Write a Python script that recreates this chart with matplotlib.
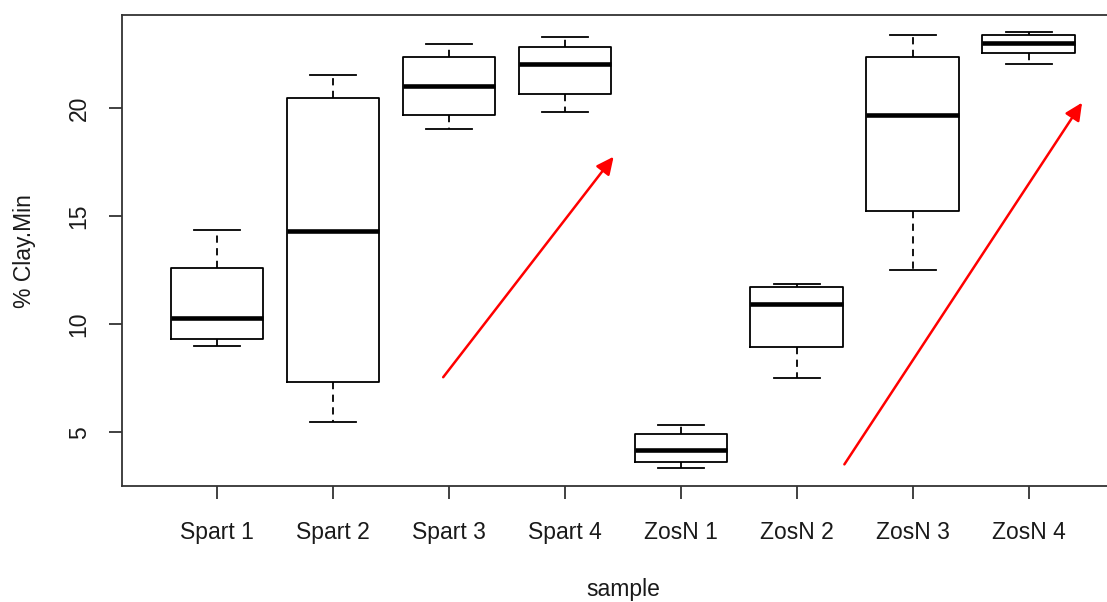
import matplotlib.pyplot as plt

plt.rcParams['font.family'] = ['Liberation Sans', 'DejaVu Sans']

samples = ["Spart 1", "Spart 2", "Spart 3", "Spart 4", "ZosN 1", "ZosN 2", "ZosN 3", "ZosN 4"]
whislo = [8.98, 5.50, 19.03, 19.81, 3.33, 7.50, 12.50, 22.02]
q1 = [9.33, 7.35, 19.68, 20.65, 3.61, 8.94, 15.23, 22.53]
med = [10.27, 14.32, 21.02, 22.04, 4.17, 10.93, 19.68, 23.02]
q3 = [12.62, 20.47, 22.37, 22.82, 4.91, 11.72, 22.38, 23.38]
whishi = [14.37, 21.54, 22.95, 23.30, 5.32, 11.86, 23.36, 23.50]

# trend arrows (start x, start y, end x, end y)
arrow_from = [(2.95, 7.55), (6.41, 3.52)]
arrow_to = [(4.42, 17.75), (8.46, 20.25)]

stats = []
for i in range(len(samples)):
    stats.append(dict(whislo=whislo[i], q1=q1[i], med=med[i], q3=q3[i],
                      whishi=whishi[i], fliers=[], label=samples[i]))

fig = plt.figure(figsize=(11.07, 6.02), dpi=100)
ax = fig.add_axes([0.1102, 0.1927, 0.905, 0.7816])

ax.bxp(stats, positions=range(1, 9), widths=0.8, showfliers=False,
       boxprops=dict(color="black", lw=1.3),
       medianprops=dict(color="black", lw=3.3, solid_capstyle="butt"),
       whiskerprops=dict(color="black", lw=1.3, linestyle=(0, (4, 3))),
       capprops=dict(color="black", lw=1.3), capwidths=0.4)

for s, e in zip(arrow_from, arrow_to):
    ax.annotate("", xy=e, xytext=s,
                arrowprops=dict(arrowstyle="-|>,head_length=1.05,head_width=0.5",
                                color="red", lw=1.8, shrinkA=0, shrinkB=0))

ax.set_xlim(0.18, 8.82)
ax.set_ylim(2.52, 24.28)
ax.set_yticks([5, 10, 15, 20])
ax.set_yticklabels(["5", "10", "15", "20"], rotation=90, va="center")
ax.tick_params(length=9.5, width=1.3, color="#333333", labelsize=16.5, pad=16,
               labelcolor="#1a1a1a")
ax.tick_params(axis="y", pad=13)
for sp in ax.spines.values():
    sp.set_color("#333333")
    sp.set_linewidth(1.3)

ax.set_xlabel("sample", fontsize=16.5, labelpad=24, color="#1a1a1a")
ax.set_ylabel("% Clay.Min", fontsize=16.5, labelpad=23, color="#1a1a1a")

fig.savefig("out.png", dpi=100)
